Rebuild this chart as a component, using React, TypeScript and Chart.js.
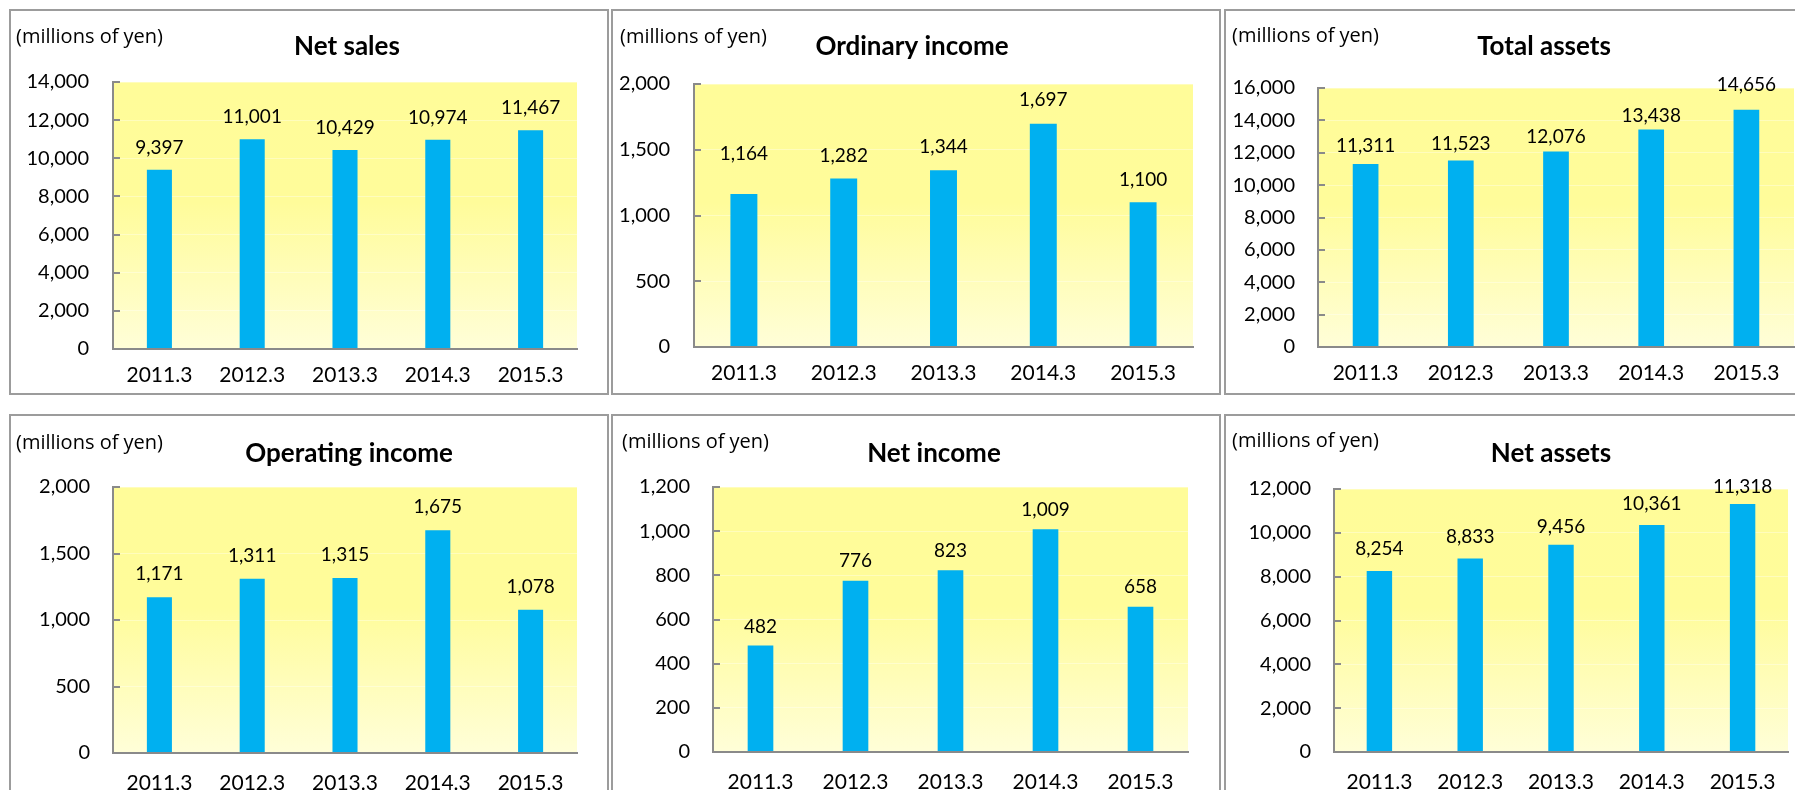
import React, { useEffect, useRef } from 'react';
import { Chart, registerables } from 'chart.js';

Chart.register(...registerables);

// ---- data ----
const categories = ['2011.3', '2012.3', '2013.3', '2014.3', '2015.3'];
const netSales = [9397, 11001, 10429, 10974, 11467];
const ordinaryIncome = [1164, 1282, 1344, 1697, 1100];
const totalAssets = [11311, 11523, 12076, 13438, 14656];
const operatingIncome = [1171, 1311, 1315, 1675, 1078];
const netIncome = [482, 776, 823, 1009, 658];
const netAssets = [8254, 8833, 9456, 10361, 11318];
const unitLabel = '(millions of yen)';

// ---- styles ----
const BAR = '#00B0F0';
const AXIS = '#8a8a8a';
const GRID = 'rgba(255,255,255,0.35)';
const NUM_FONT = 'Lato';

type Panel = {
  title: string;
  values: number[];
  yMax: number;
  yStep: number;
  x: number;
  y: number;
  w: number;
  h: number;
  area: [number, number, number, number];
  tickPad: number;
  xPad: number;
  unitPos: [number, number];
  titlePos: [number, number];
  labelGaps: number[];
  barPct: number;
};

const panels: Panel[] = [
  { title: 'Net sales', values: netSales, yMax: 14000, yStep: 2000, x: 9, y: 9, w: 600, h: 386, area: [104, 73, 568, 340], tickPad: 24, xPad: 14, unitPos: [7, 28], titlePos: [338, 38], labelGaps: [22, 22, 22, 22, 22], barPct: 0.27 },
  { title: 'Ordinary income', values: ordinaryIncome, yMax: 2000, yStep: 500, x: 611, y: 9, w: 610, h: 386, area: [83, 75, 582, 338], tickPad: 24, xPad: 14, unitPos: [9, 28], titlePos: [301, 38], labelGaps: [40, 23, 23, 24, 22], barPct: 0.27 },
  { title: 'Total assets', values: totalAssets, yMax: 16000, yStep: 2000, x: 1224, y: 9, w: 600, h: 386, area: [94, 79, 570, 338], tickPad: 23, xPad: 14, unitPos: [8, 27], titlePos: [320, 38], labelGaps: [18, 17, 15, 14, 25], barPct: 0.27 },
  { title: 'Operating income', values: operatingIncome, yMax: 2000, yStep: 500, x: 9, y: 414, w: 600, h: 400, area: [104, 73, 568, 339], tickPad: 23, xPad: 18, unitPos: [7, 29], titlePos: [340, 40], labelGaps: [23, 23, 23, 23, 23], barPct: 0.27 },
  { title: 'Net income', values: netIncome, yMax: 1200, yStep: 200, x: 611, y: 414, w: 610, h: 400, area: [102, 73, 577, 338], tickPad: 23, xPad: 18, unitPos: [11, 28], titlePos: [323, 40], labelGaps: [19, 20, 19, 19, 20], barPct: 0.27 },
  { title: 'Net assets', values: netAssets, yMax: 12000, yStep: 2000, x: 1224, y: 414, w: 600, h: 400, area: [110, 75, 564, 338], tickPad: 23, xPad: 18, unitPos: [8, 27], titlePos: [327, 40], labelGaps: [22, 22, 18, 21, 17], barPct: 0.28 },
];

const fmt = (v: number | string) => Number(v).toLocaleString('en-US');

function makePlugin(p: Panel) {
  return {
    id: 'panelDecor',
    beforeDraw(chart: any) {
      const { ctx, chartArea: a } = chart;
      const g = ctx.createLinearGradient(0, a.top, 0, a.bottom);
      g.addColorStop(0, '#FFFC99');
      g.addColorStop(0.45, '#FFFC9A');
      g.addColorStop(1, '#FFFED8');
      ctx.save();
      ctx.fillStyle = g;
      ctx.fillRect(a.left, a.top, a.right - a.left, a.bottom - a.top);
      ctx.restore();
    },
    afterDatasetsDraw(chart: any) {
      const { ctx } = chart;
      const meta = chart.getDatasetMeta(0);
      ctx.save();
      ctx.font = `19px ${NUM_FONT}`;
      ctx.fillStyle = '#000';
      ctx.textAlign = 'center';
      ctx.textBaseline = 'middle';
      meta.data.forEach((bar: any, i: number) => {
        ctx.fillText(fmt(p.values[i]), bar.x, bar.y - p.labelGaps[i]);
      });
      ctx.restore();
    },
    afterDraw(chart: any) {
      const { ctx, chartArea: a } = chart;
      const ys = chart.scales.y;
      ctx.save();
      // inward tick marks
      ctx.strokeStyle = AXIS;
      ctx.lineWidth = 2;
      ys.ticks.forEach((t: any) => {
        const py = Math.round(ys.getPixelForValue(t.value));
        ctx.beginPath();
        ctx.moveTo(a.left, py);
        ctx.lineTo(a.left + 7, py);
        ctx.stroke();
      });
      // unit label
      ctx.fillStyle = '#000';
      ctx.font = '20px "Open Sans"';
      ctx.textAlign = 'left';
      ctx.textBaseline = 'middle';
      ctx.fillText(unitLabel, p.unitPos[0], p.unitPos[1]);
      // title
      ctx.font = `bold 26px ${NUM_FONT}`;
      ctx.textAlign = 'center';
      ctx.fillText(p.title, p.titlePos[0], p.titlePos[1]);
      ctx.restore();
    },
  };
}

function ChartPanel({ p }: { p: Panel }) {
  const ref = useRef<HTMLCanvasElement>(null);
  useEffect(() => {
    const [L, T, R, B] = p.area;
    const chart = new Chart(ref.current as HTMLCanvasElement, {
      type: 'bar',
      data: {
        labels: categories,
        datasets: [
          {
            data: p.values,
            backgroundColor: BAR,
            borderWidth: 0,
            barPercentage: p.barPct,
            categoryPercentage: 1,
          },
        ],
      },
      options: {
        animation: false,
        responsive: false,
        maintainAspectRatio: false,
        devicePixelRatio: 1,
        layout: { padding: { left: 0, top: T, right: p.w - R, bottom: 0 } },
        plugins: {
          legend: { display: false },
          tooltip: { enabled: false },
          title: { display: false },
        },
        scales: {
          x: {
            grid: { display: false, drawTicks: false },
            border: { display: true, color: AXIS, width: 2, z: 1 },
            ticks: {
              color: '#000',
              font: { size: 21, family: NUM_FONT },
              padding: p.xPad,
              maxRotation: 0,
              autoSkip: false,
            },
            afterFit: (s: any) => {
              s.height = p.h - B;
            },
          },
          y: {
            min: 0,
            max: p.yMax,
            grid: { color: GRID, drawTicks: false, lineWidth: 1 },
            border: { display: true, color: AXIS, width: 2, z: 1 },
            ticks: {
              stepSize: p.yStep,
              padding: p.tickPad,
              color: '#000',
              font: { size: 20, family: NUM_FONT },
              autoSkip: false,
              callback: (v: any) => fmt(v),
            },
            afterFit: (s: any) => {
              s.width = L;
            },
          },
        },
      } as any,
      plugins: [makePlugin(p)],
    });
    return () => chart.destroy();
  }, []);
  return (
    <div style={{ position: 'absolute', left: p.x, top: p.y, width: p.w, height: p.h }}>
      <canvas ref={ref} width={p.w} height={p.h} style={{ display: 'block', width: p.w, height: p.h }} />
      <div
        style={{
          position: 'absolute',
          left: 0,
          top: 0,
          width: p.w,
          height: p.h,
          border: '2px solid #9c9c9c',
          boxSizing: 'border-box',
          pointerEvents: 'none',
        }}
      />
    </div>
  );
}

export default function App() {
  return (
    <div
      style={{
        position: 'absolute',
        left: 0,
        top: 0,
        width: 1795,
        height: 790,
        overflow: 'hidden',
        background: '#fff',
      }}
    >
      {panels.map((p) => (
        <ChartPanel key={p.title} p={p} />
      ))}
    </div>
  );
}
